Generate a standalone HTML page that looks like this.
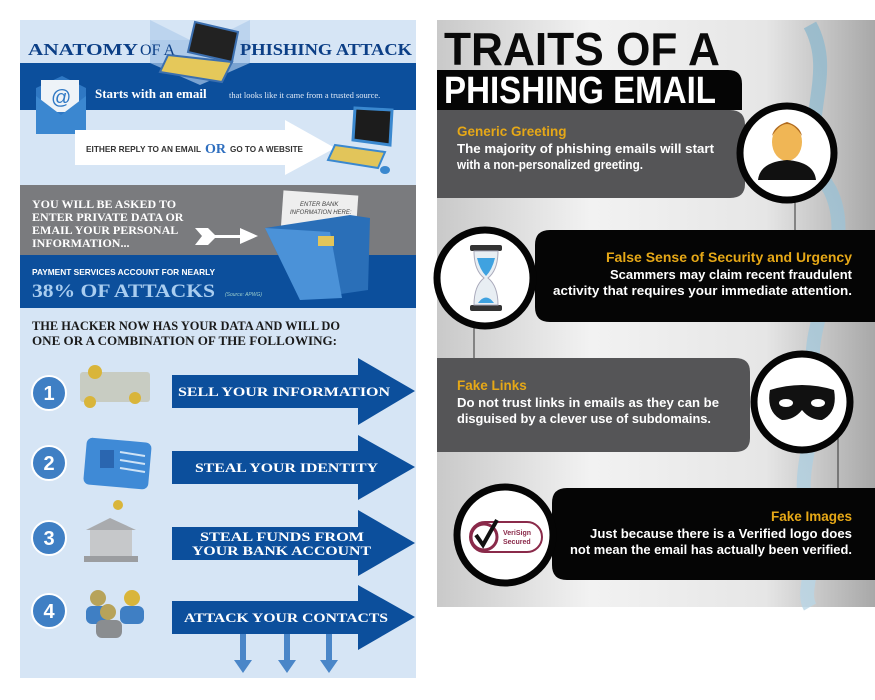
<!DOCTYPE html>
<html><head><meta charset="utf-8"><style>
html,body{margin:0;padding:0;background:#fff;width:875px;height:700px;overflow:hidden}
svg{display:block}
</style></head><body>
<svg width="875" height="700" viewBox="0 0 875 700" xmlns="http://www.w3.org/2000/svg">
<defs>
<linearGradient id="rg" x1="0" x2="1" y1="0" y2="0">
<stop offset="0" stop-color="#c9c9c9"/><stop offset="0.35" stop-color="#f2f2f2"/><stop offset="0.75" stop-color="#e6e6e6"/><stop offset="1" stop-color="#a8a8a8"/>
</linearGradient>
<linearGradient id="wat" x1="0" x2="0" y1="0" y2="1">
<stop offset="0" stop-color="#8fb8cc"/><stop offset="1" stop-color="#b9d6e6"/>
</linearGradient>
</defs>

<!-- LEFT PANEL -->
<rect x="20" y="20" width="396" height="658" fill="#d6e5f5"/>
<polygon points="150,20 200,45 250,20 250,63 150,63" fill="#bcd4ee"/>
<rect x="20" y="63" width="396" height="47" fill="#0c4f9c"/>
<polygon points="150,63 200,85 250,63 250,40 150,40" fill="#a9c7e8" opacity="0.7"/>
<text x="28" y="55" font-family="Liberation Serif,serif" font-weight="bold" font-size="17" fill="#0c3f86" textLength="110" lengthAdjust="spacingAndGlyphs">ANATOMY</text>
<text x="140" y="55" font-family="Liberation Serif,serif" font-size="16" fill="#0c3f86">OF A</text>
<text x="240" y="55" font-family="Liberation Serif,serif" font-weight="bold" font-size="17" fill="#0c3f86" textLength="172" lengthAdjust="spacingAndGlyphs">PHISHING ATTACK</text>
<!-- laptop -->
<polygon points="195,22 238,32 232,62 188,52" fill="#222" stroke="#3b6fb0" stroke-width="2"/>
<polygon points="168,55 232,62 222,82 160,72" fill="#e5c85a" stroke="#3b6fb0" stroke-width="2"/>
<text x="95" y="98" font-family="Liberation Serif,serif" font-weight="bold" font-size="13" fill="#fff">Starts with an email</text>
<text x="229" y="98" font-family="Liberation Serif,serif" font-size="8.5" fill="#dfe9f6">that looks like it came from a trusted source.</text>
<!-- email icon -->
<polygon points="36,88 62,76 86,88 86,130 36,130" fill="#2f78c4"/>
<rect x="41" y="80" width="38" height="32" fill="#eef3f8"/>
<text x="51" y="104" font-family="Liberation Sans,sans-serif" font-size="20" fill="#2f78c4">@</text>
<polygon points="36,96 61,115 86,96 86,134 36,134" fill="#3b87d0"/>
<!-- white arrow -->
<polygon points="75,130 285,130 285,120 335,148 285,175 285,165 75,165" fill="#fff"/>
<text x="86" y="152" font-family="Liberation Sans,sans-serif" font-weight="bold" font-size="8.5" fill="#333" textLength="115" lengthAdjust="spacingAndGlyphs">EITHER REPLY TO AN EMAIL</text>
<text x="205" y="153" font-family="Liberation Serif,serif" font-weight="bold" font-size="14" fill="#2f6fbf">OR</text>
<text x="230" y="152" font-family="Liberation Sans,sans-serif" font-weight="bold" font-size="8.5" fill="#333" textLength="73" lengthAdjust="spacingAndGlyphs">GO TO A WEBSITE</text>
<!-- computer -->
<polygon points="355,108 392,110 390,145 353,140" fill="#1c1c1c" stroke="#3a88cf" stroke-width="3"/>
<polygon points="335,145 385,152 378,168 328,160" fill="#e2c55a" stroke="#3a88cf" stroke-width="2"/>
<ellipse cx="385" cy="170" rx="5" ry="4" fill="#3a88cf"/>
<!-- gray band -->
<rect x="20" y="185" width="396" height="70" fill="#7a7b7e"/>
<rect x="20" y="255" width="396" height="53" fill="#0c4f9c"/>
<g font-family="Liberation Serif,serif" font-weight="bold" font-size="12" fill="#fff">
<text x="32" y="208">YOU WILL BE ASKED TO</text>
<text x="32" y="221">ENTER PRIVATE DATA OR</text>
<text x="32" y="234">EMAIL YOUR PERSONAL</text>
<text x="32" y="247">INFORMATION...</text>
</g>
<polygon points="195,228 208,228 215,235 240,235 240,228 258,236 240,244 240,238 215,238 208,245 195,245 202,236" fill="#fff"/>
<!-- folder -->
<rect x="282" y="193" width="75" height="40" fill="#eeeeee" transform="rotate(4 320 213)"/>
<text x="300" y="206" font-family="Liberation Sans,sans-serif" font-style="italic" font-size="6" fill="#444">ENTER BANK</text>
<text x="290" y="214" font-family="Liberation Sans,sans-serif" font-style="italic" font-size="6" fill="#444">INFORMATION HERE:</text>
<polygon points="265,228 350,215 370,218 368,290 300,300" fill="#2a6fb8"/>
<polygon points="265,228 330,232 342,298 300,300" fill="#4b92d8"/>
<rect x="318" y="236" width="16" height="10" fill="#e2c55a"/>
<text x="32" y="275" font-family="Liberation Sans,sans-serif" font-weight="bold" font-size="8.5" fill="#fff" textLength="183" lengthAdjust="spacingAndGlyphs">PAYMENT SERVICES ACCOUNT FOR NEARLY</text>
<text x="32" y="297" font-family="Liberation Serif,serif" font-weight="bold" font-size="19" fill="#a9cdf0" textLength="183" lengthAdjust="spacingAndGlyphs">38% OF ATTACKS</text>
<text x="225" y="296" font-family="Liberation Sans,sans-serif" font-style="italic" font-size="5" fill="#9cc">(Source: APWG)</text>
<g font-family="Liberation Serif,serif" font-weight="bold" font-size="12.5" fill="#1a1a1a">
<text x="32" y="330" textLength="308" lengthAdjust="spacingAndGlyphs">THE HACKER NOW HAS YOUR DATA AND WILL DO</text>
<text x="32" y="345" textLength="305" lengthAdjust="spacingAndGlyphs">ONE OR A COMBINATION OF THE FOLLOWING:</text>
</g>
<!-- rows -->
<g fill="#0c4f9c">
<polygon points="172,375 358,375 358,358 415,391 358,425 358,408 172,408"/>
<polygon points="172,451 358,451 358,435 415,467 358,500 358,484 172,484"/>
<polygon points="172,527 358,527 358,510 415,543 358,576 358,560 172,560"/>
<polygon points="172,601 358,601 358,585 415,617 358,650 358,634 172,634"/>
</g>
<g fill="#4a86c8">
<polygon points="240,634 246,634 246,660 252,660 243,673 234,660 240,660"/>
<polygon points="284,634 290,634 290,660 296,660 287,673 278,660 284,660"/>
<polygon points="326,634 332,634 332,660 338,660 329,673 320,660 326,660"/>
</g>
<g font-family="Liberation Serif,serif" font-weight="bold" font-size="13" fill="#fff">
<text x="178" y="396" textLength="212" lengthAdjust="spacingAndGlyphs">SELL YOUR INFORMATION</text>
<text x="195" y="472" textLength="183" lengthAdjust="spacingAndGlyphs">STEAL YOUR IDENTITY</text>
<text x="200" y="541" textLength="164" lengthAdjust="spacingAndGlyphs">STEAL FUNDS FROM</text>
<text x="192" y="555" textLength="179" lengthAdjust="spacingAndGlyphs">YOUR BANK ACCOUNT</text>
<text x="184" y="622" textLength="204" lengthAdjust="spacingAndGlyphs">ATTACK YOUR CONTACTS</text>
</g>
<g fill="#3f7fc4" stroke="#fff" stroke-width="2">
<circle cx="49" cy="393" r="17"/><circle cx="49" cy="463" r="17"/><circle cx="49" cy="538" r="17"/><circle cx="49" cy="611" r="17"/>
</g>
<g font-family="Liberation Sans,sans-serif" font-weight="bold" font-size="20" fill="#fff" text-anchor="middle">
<text x="49" y="400">1</text><text x="49" y="470">2</text><text x="49" y="545">3</text><text x="49" y="618">4</text>
</g>
<!-- icons -->
<rect x="80" y="372" width="70" height="30" fill="#c8ccc2" rx="3"/>
<circle cx="95" cy="372" r="7" fill="#d9b53a"/><circle cx="135" cy="398" r="6" fill="#d9b53a"/><circle cx="90" cy="402" r="6" fill="#d9b53a"/>
<rect x="85" y="440" width="65" height="47" rx="6" fill="#3f8ad6" transform="rotate(5 117 463)"/>
<rect x="100" y="450" width="14" height="18" fill="#2a66b0"/>
<line x1="120" y1="452" x2="145" y2="456" stroke="#cfe3f6" stroke-width="2"/>
<line x1="120" y1="460" x2="145" y2="464" stroke="#cfe3f6" stroke-width="2"/>
<line x1="120" y1="468" x2="145" y2="472" stroke="#cfe3f6" stroke-width="2"/>
<polygon points="86,530 110,518 136,530" fill="#a9abae"/>
<rect x="90" y="530" width="42" height="28" fill="#c6c8ca"/>
<rect x="84" y="556" width="54" height="6" fill="#9b9da0"/>
<circle cx="118" cy="505" r="5" fill="#d9b53a"/>
<circle cx="98" cy="598" r="8" fill="#b7a35a"/><rect x="86" y="606" width="24" height="18" rx="6" fill="#3f7fc4"/>
<circle cx="132" cy="598" r="8" fill="#d9b53a"/><rect x="120" y="606" width="24" height="18" rx="6" fill="#3f7fc4"/>
<circle cx="108" cy="612" r="8" fill="#b7a35a"/><rect x="96" y="620" width="26" height="18" rx="6" fill="#8a8d90"/>

<!-- RIGHT PANEL -->
<rect x="437" y="20" width="438" height="587" fill="url(#rg)"/>
<path d="M810,25 C840,80 790,130 830,190 C860,250 800,320 815,380 C825,420 790,470 810,520 C820,560 800,590 810,607" stroke="url(#wat)" stroke-width="14" fill="none" opacity="0.8"/>
<text x="444" y="65" font-family="Liberation Sans,sans-serif" font-weight="bold" font-size="46" fill="#0a0a0a" textLength="276" lengthAdjust="spacingAndGlyphs">TRAITS OF A</text>
<path d="M437,70 H728 Q742,70 742,84 V110 H437 Z" fill="#050505"/>
<text x="444" y="103" font-family="Liberation Sans,sans-serif" font-weight="bold" font-size="38" fill="#fff" textLength="272" lengthAdjust="spacingAndGlyphs">PHISHING EMAIL</text>
<!-- card1 -->
<path d="M437,110 H730 Q745,110 745,125 V184 Q745,198 730,198 H437 Z" fill="#555557"/>
<line x1="795" y1="200" x2="795" y2="232" stroke="#333" stroke-width="1"/>
<!-- card2 -->
<path d="M550,230 H875 V322 H550 Q535,322 535,307 V245 Q535,230 550,230 Z" fill="#050505"/>
<line x1="474" y1="325" x2="474" y2="360" stroke="#333" stroke-width="1"/>
<!-- card3 -->
<path d="M437,358 H735 Q750,358 750,372 V438 Q750,452 735,452 H437 Z" fill="#555557"/>
<line x1="838" y1="405" x2="838" y2="490" stroke="#333" stroke-width="1"/>
<path d="M830,402 Q838,402 838,410" stroke="#333" fill="none"/>
<!-- card4 -->
<path d="M567,488 H875 V580 H567 Q552,580 552,565 V503 Q552,488 567,488 Z" fill="#050505"/>
<!-- circles -->
<g fill="#fff" stroke="#050505" stroke-width="7">
<circle cx="787" cy="153" r="47"/>
<circle cx="485" cy="278" r="48"/>
<circle cx="802" cy="402" r="48"/>
<circle cx="505" cy="535" r="48"/>
</g>
<!-- person -->
<ellipse cx="787" cy="142" rx="15" ry="19" fill="#f0b655"/>
<path d="M772,136 Q787,112 802,136 Q800,126 787,122 Q774,126 772,136 Z" fill="#b06a1e"/>
<path d="M758,180 Q760,162 787,160 Q814,162 816,180 Z" fill="#111"/>
<!-- hourglass -->
<rect x="470" y="245" width="32" height="6" rx="2" fill="#333"/>
<rect x="470" y="305" width="32" height="6" rx="2" fill="#333"/>
<path d="M474,251 H498 Q498,270 488,278 Q498,286 498,305 H474 Q474,286 484,278 Q474,270 474,251 Z" fill="#e8eef3" stroke="#aab" stroke-width="1"/>
<path d="M477,258 H495 Q492,270 486,276 Q480,270 477,258 Z" fill="#3fa2e0"/>
<path d="M478,303 Q486,292 494,303 Z" fill="#3fa2e0"/>
<!-- mask -->
<path d="M770,390 Q802,380 834,390 Q838,412 822,420 Q810,420 802,410 Q794,420 782,420 Q766,412 770,390 Z" fill="#111"/>
<ellipse cx="786" cy="403" rx="7" ry="4" fill="#fff"/><ellipse cx="818" cy="403" rx="7" ry="4" fill="#fff"/>
<!-- verisign -->
<rect x="470" y="522" width="72" height="30" rx="15" fill="#fff" stroke="#8a2a4a" stroke-width="2"/>
<circle cx="484" cy="537" r="13" fill="#fff" stroke="#8a2a4a" stroke-width="3"/>
<path d="M476,535 L483,545 L497,520" stroke="#111" stroke-width="4" fill="none"/>
<text x="503" y="535" font-family="Liberation Sans,sans-serif" font-weight="bold" font-size="7" fill="#8a2a4a">VeriSign</text>
<text x="503" y="544" font-family="Liberation Sans,sans-serif" font-weight="bold" font-size="7" fill="#8a2a4a">Secured</text>
<!-- texts -->
<g font-family="Liberation Sans,sans-serif" font-weight="bold">
<text x="457" y="136" font-size="13.5" fill="#e6a817">Generic Greeting</text>
<text x="457" y="153" font-size="12.5" fill="#fff" textLength="257" lengthAdjust="spacingAndGlyphs">The majority of phishing emails will start</text>
<text x="457" y="169" font-size="12.5" fill="#fff" textLength="186" lengthAdjust="spacingAndGlyphs">with a non-personalized greeting.</text>
<text x="852" y="262" font-size="13.5" fill="#e6a817" text-anchor="end" textLength="246" lengthAdjust="spacingAndGlyphs">False Sense of Security and Urgency</text>
<text x="852" y="279" font-size="12.5" fill="#fff" text-anchor="end" textLength="242" lengthAdjust="spacingAndGlyphs">Scammers may claim recent fraudulent</text>
<text x="852" y="295" font-size="12.5" fill="#fff" text-anchor="end" textLength="299" lengthAdjust="spacingAndGlyphs">activity that requires your immediate attention.</text>
<text x="457" y="390" font-size="13.5" fill="#e6a817">Fake Links</text>
<text x="457" y="407" font-size="12.5" fill="#fff" textLength="262" lengthAdjust="spacingAndGlyphs">Do not trust links in emails as they can be</text>
<text x="457" y="423" font-size="12.5" fill="#fff" textLength="254" lengthAdjust="spacingAndGlyphs">disguised by a clever use of subdomains.</text>
<text x="852" y="521" font-size="13.5" fill="#e6a817" text-anchor="end">Fake Images</text>
<text x="852" y="538" font-size="12.5" fill="#fff" text-anchor="end" textLength="262" lengthAdjust="spacingAndGlyphs">Just because there is a Verified logo does</text>
<text x="852" y="554" font-size="12.5" fill="#fff" text-anchor="end" textLength="282" lengthAdjust="spacingAndGlyphs">not mean the email has actually been verified.</text>
</g>
</svg>
</body></html>
